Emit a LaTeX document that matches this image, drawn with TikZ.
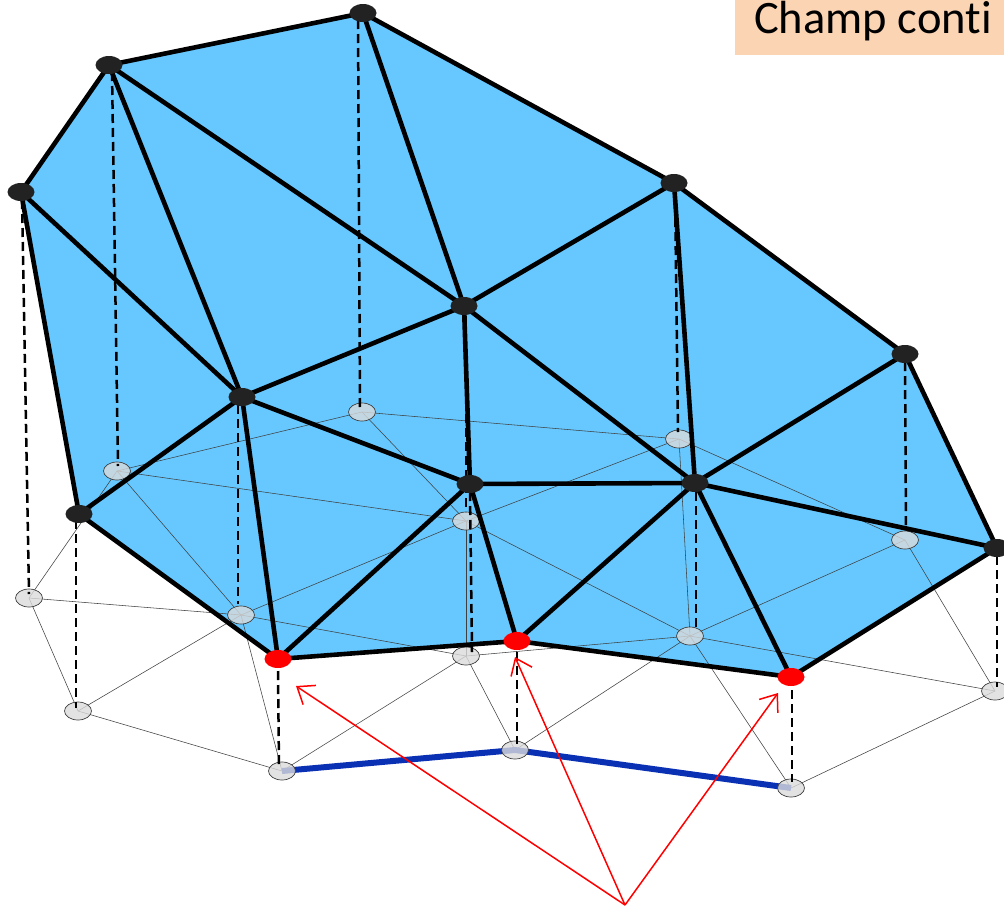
\documentclass[tikz,border=0pt]{standalone}
\usepackage{fontspec}
\setmainfont{Carlito}[Ligatures=NoCommon]
\usetikzlibrary{arrows.meta,shapes.geometric}
\definecolor{skyfill}{HTML}{66C8FF}
\definecolor{peach}{HTML}{FBD4B4}
\definecolor{darkdot}{HTML}{222222}
\definecolor{bluebar}{HTML}{0A30B4}
\tikzset{
  x=1pt,y=-1pt,
  upper/.style={ellipse,fill=darkdot,inner sep=0,minimum width=27pt,minimum height=18pt},
  redup/.style={ellipse,fill=red,inner sep=0,minimum width=27pt,minimum height=18pt},
  lower/.style={ellipse,draw=black!75,line width=.7pt,fill=gray!28,fill opacity=.8,inner sep=0,minimum width=27pt,minimum height=18pt},
  thin mesh/.style={line width=.55pt,draw=black!75},
  thick mesh/.style={line width=4.6pt,draw=black,line join=round},
  drop/.style={line width=2.5pt,draw=black,dash pattern=on 9pt off 5pt},
  bluepath/.style={line width=6pt,draw=bluebar},
  pointer/.style={line width=1.5pt,draw=red,-{Straight Barb[length=15pt,width=23pt,line width=1.5pt]}},
}
\begin{document}
\begin{tikzpicture}
\useasboundingbox (0,0) rectangle (1004,908);
% anchors for the fill and nodes
\foreach \n/\x/\y in {a/363/13,b/109/65,c/21/192,d/79/514,e/278/659,f/517/641,g/791/677,h/997/548,i/905/354,j/674/183,k/464/306,l/242/397,m/470/484,n/695/483}
  \coordinate (\n p) at (\x,\y);
\fill[skyfill] (ap)--(bp)--(cp)--(dp)--(ep)--(fp)--(gp)--(hp)--(ip)--(jp)--cycle;
% lower nodes
\foreach \n/\x/\y in {A/362/412,B/117/471,C/29/598,D/78/711,E/282/771,F/515/750,G/791/788,H/995/691,I/905/540,J/679/439,K/466/521,L/241/615,M/466/656,N/690/636}
  \coordinate (\n c) at (\x,\y);
% lower mesh
\foreach \p/\q in {A/B,B/C,C/D,D/E,E/F,F/G,G/H,H/I,I/J,J/A,B/L,C/L,D/L,E/L,B/K,A/K,J/K,J/N,I/N,H/N,G/N,F/N,F/M,E/M,M/N,M/K,M/L,K/L,K/N}
  \draw[thin mesh] (\p c) -- (\q c);
% blue path, seen through the lower nodes
\draw[bluepath] (Ec) -- (Fc) -- (Gc);
\foreach \n in {A,B,C,D,E,F,G,H,I,J,K,L,M,N}
  \node[lower] (\n) at (\n c) {};
% vertical drops: each ends at its own foot near the lower node
\foreach \p/\fx/\fy/\tx/\ty in {a/358/20/360/408,b/112/72/118/466,c/22/200/29/594,d/76/520/76/708,e/278/671/279/768,f/517/652/517/744,g/792/690/792/782,h/997/556/997/687,i/905/362/906/530,j/675/190/678/432,k/466/316/466/512,l/238/405/238/604,m/470/492/472/652,n/696/492/696/628}
{
  \coordinate (\p top) at (\fx,\fy);
  \coordinate (\p foot) at (\tx,\ty);
  \draw[drop] (\p top) -- (\p foot);
}
% upper mesh
\foreach \p/\q in {a/b,b/c,c/d,d/e,e/f,f/g,g/h,h/i,i/j,j/a,b/l,c/l,d/l,e/l,b/k,a/k,j/k,j/n,i/n,h/n,g/n,f/n,f/m,e/m,m/n,m/k,m/l,k/l,k/n}
  \draw[thick mesh] (\p p) -- (\q p);
\foreach \n in {a,b,c,d,h,i,j,k,l,m,n}
  \node[upper] (\n) at (\n p) {};
\foreach \n in {e,f,g}
  \node[redup] (\n) at (\n p) {};
% red pointers
\coordinate (src) at (625,905);
\coordinate (t1) at (296,686);
\coordinate (t2) at (515,657);
\coordinate (t3) at (778,693);
\draw[pointer] (src) -- (t1);
\draw[pointer] (src) -- (t2);
\draw[pointer] (src) -- (t3);
% title
\fill[peach] (735,0) rectangle (1004,55);
\node[anchor=base west,inner sep=0,font=\fontsize{46.5}{50}\selectfont] (title) at (754,33) {Champ conti};
\end{tikzpicture}
\end{document}
